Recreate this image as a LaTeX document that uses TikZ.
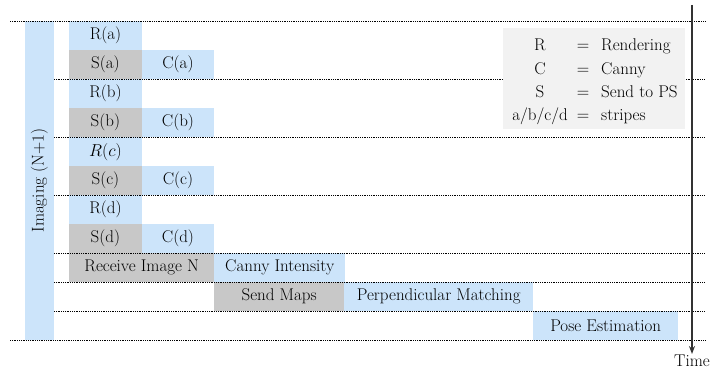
\documentclass[tikz,border=0pt]{standalone}
\usetikzlibrary{arrows.meta}
\definecolor{taskblue}{HTML}{CCE4FA}
\definecolor{taskgray}{HTML}{C8C8C8}
\definecolor{legendgray}{HTML}{F2F2F2}
\definecolor{axisgray}{HTML}{333333}
\tikzset{
  cell/.style={rectangle, inner sep=0pt, anchor=north west, minimum height=29pt},
  bluecell/.style={cell, fill=taskblue},
  graycell/.style={cell, fill=taskgray},
  rowline/.style={line width=0.8pt, dash pattern=on 0.8pt off 1pt},
  legtext/.style={inner sep=0pt, anchor=base},
}
\begin{document}
\begin{tikzpicture}[x=1pt, y=-1pt, font=\fontsize{17}{20}\selectfont]
\useasboundingbox (0,0) rectangle (710,371);

% imaging bar
\node[fill=taskblue, rotate=90, minimum width=319pt, minimum height=29pt, inner sep=0pt]
  (imaging) at (39.5,180.5) {Imaging (N+1)};

% stripe rows
\node[bluecell, minimum width=72.5pt] (Ra) at (69,21) {R(a)};
\node[graycell, minimum width=72.5pt] (Sa) at (69,50) {S(a)};
\node[bluecell, minimum width=72.5pt] (Ca) at (141.5,50) {C(a)};
\node[bluecell, minimum width=72.5pt] (Rb) at (69,79) {R(b)};
\node[graycell, minimum width=72.5pt] (Sb) at (69,108) {S(b)};
\node[bluecell, minimum width=72.5pt] (Cb) at (141.5,108) {C(b)};
\node[bluecell, minimum width=72.5pt] (Rc) at (69,137) {$R(c)$};
\node[graycell, minimum width=72.5pt] (Sc) at (69,166) {S(c)};
\node[bluecell, minimum width=72.5pt] (Cc) at (141.5,166) {C(c)};
\node[bluecell, minimum width=72.5pt] (Rd) at (69,195) {R(d)};
\node[graycell, minimum width=72.5pt] (Sd) at (69,224) {S(d)};
\node[bluecell, minimum width=72.5pt] (Cd) at (141.5,224) {C(d)};

% processing stages
\node[graycell, minimum width=145pt] (recv) at (69,253) {Receive Image N};
\node[bluecell, minimum width=131pt] (canny) at (214,253) {Canny Intensity};
\node[graycell, minimum width=130pt] (send) at (214,282) {Send Maps};
\node[bluecell, minimum width=189pt] (perp) at (344,282) {Perpendicular Matching};
\node[bluecell, minimum width=145pt] (pose) at (533,311) {Pose Estimation};

% row separators
\draw[rowline] (10,21) -- (705,21);
\foreach \y in {79,137,195,253,282,311}
  \draw[rowline] (54,\y) -- (705,\y);
\draw[rowline] (10,340) -- (705,340);

% legend
\node[fill=legendgray, anchor=north west, inner sep=0pt, minimum width=182pt, minimum height=101pt]
  (legend) at (503,28) {};
\node[legtext] (lR) at (540,51) {R};
\node[legtext] (eR) at (583,51) {$=$};
\node[legtext, anchor=base west] (dR) at (601,51) {Rendering};
\node[legtext] (lC) at (540,75) {C};
\node[legtext] (eC) at (583,75) {$=$};
\node[legtext, anchor=base west] (dC) at (601,75) {Canny};
\node[legtext] (lS) at (540,98) {S};
\node[legtext] (eS) at (583,98) {$=$};
\node[legtext, anchor=base west] (dS) at (601,98) {Send to PS};
\node[legtext] (lX) at (540,121) {a/b/c/d};
\node[legtext] (eX) at (583,121) {$=$};
\node[legtext, anchor=base west] (dX) at (601,121) {stripes};

% time axis
\coordinate (ttop) at (692,5);
\node[inner sep=1pt, anchor=north] (time) at (692,354) {Time};
\draw[axisgray, line width=1.5pt, -{Stealth[length=8pt, width=6pt]}] (ttop) -- (time.north);
\end{tikzpicture}
\end{document}
